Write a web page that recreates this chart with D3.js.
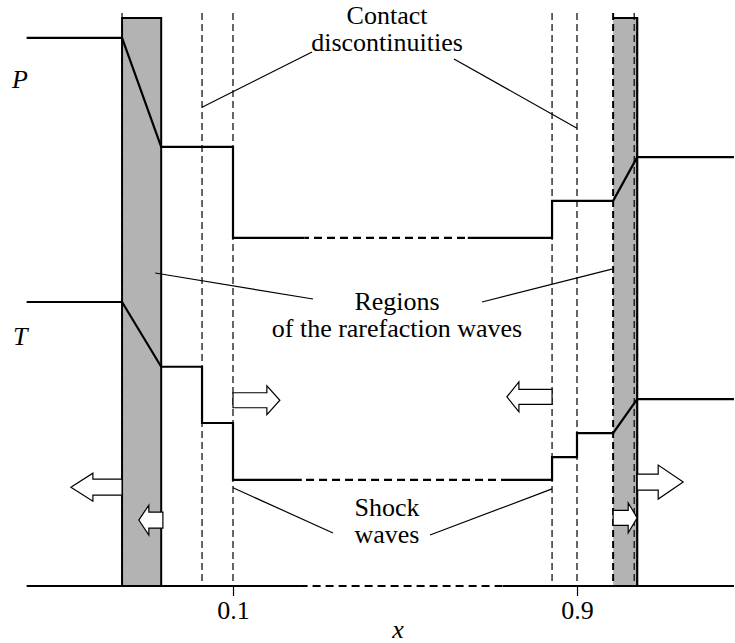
<!DOCTYPE html>
<html>
<head>
<meta charset="utf-8">
<script src="https://cdn.jsdelivr.net/npm/d3@7"></script>
<style>
  body { margin: 0; background: #fff; }
  svg { display: block; }
  svg text { font-family: "Liberation Serif", "Times New Roman", Times, "DejaVu Serif", serif; fill: #000; }
</style>
</head>
<body>
<svg id="chart" width="735" height="643"></svg>
<script>
// ---- data (dimensionless coordinate x, normalised level v) ----
const tickValues = [0.1, 0.9];
const tickLabels = ["0.1", "0.9"];
const lineExtent = [-0.38, 1.265];

// pressure profile P(x)
const pressureX = [-0.38, -0.158, -0.067, 0.1, 0.1, 0.842, 0.842, 0.984, 1.04, 1.265];
const pressureV = [0.965, 0.965, 0.773, 0.773, 0.613, 0.613, 0.678, 0.678, 0.755, 0.755];
const pressureBreak = [0.266, 0.646];

// temperature profile T(x)
const temperatureX = [-0.38, -0.158, -0.067, 0.028, 0.028, 0.1, 0.1, 0.842, 0.842, 0.9, 0.9, 0.984, 1.04, 1.265];
const temperatureV = [0.5, 0.5, 0.386, 0.386, 0.287, 0.287, 0.187, 0.187, 0.227, 0.227, 0.269, 0.269, 0.329, 0.329];
const temperatureBreak = [0.26, 0.728];

// x axis line
const axisBreak = [0.258, 0.728];

// rarefaction fans, contact discontinuities, shock waves
const rarefactionBands = [[-0.158, -0.067], [0.984, 1.04]];
const bandTop = 1.0;
const fanEdgesX = [-0.158, 0.984, 1.033];
const contactX = [0.028, 0.9];
const shockX = [0.1, 0.842];

// propagation arrows: base, tip, level
const arrowBaseX = [-0.158, -0.063, 0.1, 0.842, 1.04, 0.984];
const arrowTipX = [-0.277, -0.119, 0.209, 0.737, 1.147, 1.04];
const arrowV = [0.174, 0.116, 0.327, 0.333, 0.183, 0.120];

// annotation labels and the points their leaders reach
const contactLabel = ["Contact", "discontinuities"];
const contactTargets = [[0.028, 0.843], [0.9, 0.806]];
const regionsLabel = ["Regions", "of the rarefaction waves"];
const regionsTargets = [[-0.081, 0.551], [0.981, 0.558]];
const shockLabel = ["Shock", "waves"];
const shockTargets = [[0.1, 0.173], [0.842, 0.171]];

// ---- scales ----
const FONT = "Liberation Serif, Times New Roman, Times, DejaVu Serif, serif";
const svg = d3.select("#chart");
const x = d3.scaleLinear().domain([0.1, 0.9]).range([233, 577]);
const y = d3.scaleLinear().domain([0, 1]).range([586, 18]);
const yTop = 13;

// ---- dashed verticals (drawn under the left band) ----
const dashStyle = "7,4";
svg.append("g").selectAll("line")
  .data([fanEdgesX[0]].concat(contactX, shockX))
  .join("line")
  .attr("x1", d => x(d)).attr("x2", d => x(d))
  .attr("y1", yTop).attr("y2", y(0))
  .attr("stroke", "#000").attr("stroke-width", 1.2)
  .attr("stroke-dasharray", dashStyle);

// ---- rarefaction bands ----
const bands = svg.append("g");
bands.selectAll("rect")
  .data(rarefactionBands)
  .join("rect")
  .attr("x", d => x(d[0])).attr("width", d => x(d[1]) - x(d[0]))
  .attr("y", y(bandTop)).attr("height", y(0) - y(bandTop))
  .attr("fill", "#b3b3b3");
// left band: full outline
const lb = rarefactionBands[0];
bands.append("rect")
  .attr("x", x(lb[0])).attr("width", x(lb[1]) - x(lb[0]))
  .attr("y", y(bandTop)).attr("height", y(0) - y(bandTop))
  .attr("fill", "none").attr("stroke", "#000").attr("stroke-width", 2);
// right band: top and right edges solid
const rb = rarefactionBands[1];
bands.append("path")
  .attr("d", `M${x(rb[0])},${y(bandTop)}H${x(rb[1])}V${y(0)}`)
  .attr("fill", "none").attr("stroke", "#000").attr("stroke-width", 2.2);
// right band: fan edges dashed on top
bands.selectAll(".fan")
  .data(fanEdgesX.slice(1))
  .join("line").attr("class", "fan")
  .attr("x1", d => x(d)).attr("x2", d => x(d))
  .attr("y1", yTop).attr("y2", y(0))
  .attr("stroke", "#000").attr("stroke-width", (d, i) => i === 0 ? 2 : 1.2)
  .attr("stroke-dasharray", dashStyle);

// ---- profiles with an omitted (dashed) middle stretch ----
const line = d3.line().x(d => x(d[0])).y(d => y(d[1]));
const defs = svg.append("defs");
let clipId = 0;
function brokenLine(xs, vs, brk) {
  const pts = xs.map((d, i) => [d, vs[i]]);
  const idOut = "clipOut" + (clipId++), idIn = "clipIn" + (clipId++);
  const cOut = defs.append("clipPath").attr("id", idOut);
  cOut.append("rect").attr("x", 0).attr("y", 0).attr("width", x(brk[0])).attr("height", 643);
  cOut.append("rect").attr("x", x(brk[1])).attr("y", 0).attr("width", 735).attr("height", 643);
  defs.append("clipPath").attr("id", idIn)
    .append("rect").attr("x", x(brk[0])).attr("y", 0)
    .attr("width", x(brk[1]) - x(brk[0])).attr("height", 643);
  svg.append("path").attr("d", line(pts))
    .attr("clip-path", `url(#${idOut})`)
    .attr("fill", "none").attr("stroke", "#000").attr("stroke-width", 2.2)
    .attr("stroke-linejoin", "miter");
  svg.append("path").attr("d", line(pts))
    .attr("clip-path", `url(#${idIn})`)
    .attr("fill", "none").attr("stroke", "#000").attr("stroke-width", 2.2)
    .attr("stroke-dasharray", "8,5");
}
brokenLine(pressureX, pressureV, pressureBreak);
brokenLine(temperatureX, temperatureV, temperatureBreak);
brokenLine(lineExtent, [0, 0], axisBreak);

// ---- x axis ticks ----
const axis = d3.axisBottom(x).tickValues(tickValues)
  .tickFormat((d, i) => tickLabels[i]).tickSize(10).tickPadding(5);
const ag = svg.append("g").attr("transform", `translate(0,${y(0)})`).call(axis);
ag.select(".domain").remove();
ag.selectAll(".tick line").attr("stroke", "#000").attr("stroke-width", 1.2);
ag.selectAll(".tick text")
  .attr("font-family", FONT).attr("font-size", 26)
  .attr("fill", "#000");

svg.append("text").attr("x", 398).attr("y", 638)
  .attr("font-family", FONT)
  .attr("text-anchor", "middle").attr("font-size", 26).attr("font-style", "italic")
  .text("x");
svg.append("text").attr("x", 12).attr("y", 88)
  .attr("font-family", FONT)
  .attr("font-size", 26).attr("font-style", "italic").text("P");
svg.append("text").attr("x", 13).attr("y", 345)
  .attr("font-family", FONT)
  .attr("font-size", 26).attr("font-style", "italic").text("T");

// ---- arrows ----
const arrowShape = [
  { head: 22, hh: 14, sh: 8 },
  { head: 10, hh: 15, sh: 8 },
  { head: 13, hh: 14.5, sh: 7.5 },
  { head: 12, hh: 15, sh: 7.5 },
  { head: 25, hh: 17, sh: 8 },
  { head: 9, hh: 15, sh: 7.5 }
];
svg.append("g").selectAll("path")
  .data(arrowBaseX.map((b, i) => ({ b: x(b), t: x(arrowTipX[i]), c: y(arrowV[i]), s: arrowShape[i] })))
  .join("path")
  .attr("d", d => {
    const dir = d.t > d.b ? 1 : -1;
    const hb = d.t - dir * d.s.head;
    return `M${d.b},${d.c - d.s.sh}L${hb},${d.c - d.s.sh}L${hb},${d.c - d.s.hh}` +
      `L${d.t},${d.c}L${hb},${d.c + d.s.hh}L${hb},${d.c + d.s.sh}L${d.b},${d.c + d.s.sh}Z`;
  })
  .attr("fill", "#fff").attr("stroke", "#000").attr("stroke-width", 1.2)
  .attr("stroke-linejoin", "miter");

// ---- annotations: one text block per label, lines as tspans ----
function annotate(lines, cx, baseline, step, leaders) {
  const g = svg.append("g");
  const t = g.append("text")
    .attr("font-family", FONT).attr("font-size", 26)
    .attr("text-anchor", "middle");
  lines.forEach((s, i) => {
    t.append("tspan").attr("x", cx).attr("y", baseline + i * step).text(s);
  });
  leaders.forEach(l => {
    g.append("line")
      .attr("x1", l.from[0]).attr("y1", l.from[1])
      .attr("x2", x(l.to[0])).attr("y2", y(l.to[1]))
      .attr("stroke", "#000").attr("stroke-width", 1.2);
  });
}
annotate(contactLabel, 387, 24, 27, [
  { from: [312, 52], to: contactTargets[0] },
  { from: [454, 59], to: contactTargets[1] }
]);
annotate(regionsLabel, 397, 310, 27, [
  { from: [313, 299], to: regionsTargets[0] },
  { from: [482, 302], to: regionsTargets[1] }
]);
annotate(shockLabel, 387, 516, 27, [
  { from: [333, 533], to: shockTargets[0] },
  { from: [430, 535], to: shockTargets[1] }
]);
</script>
</body>
</html>
